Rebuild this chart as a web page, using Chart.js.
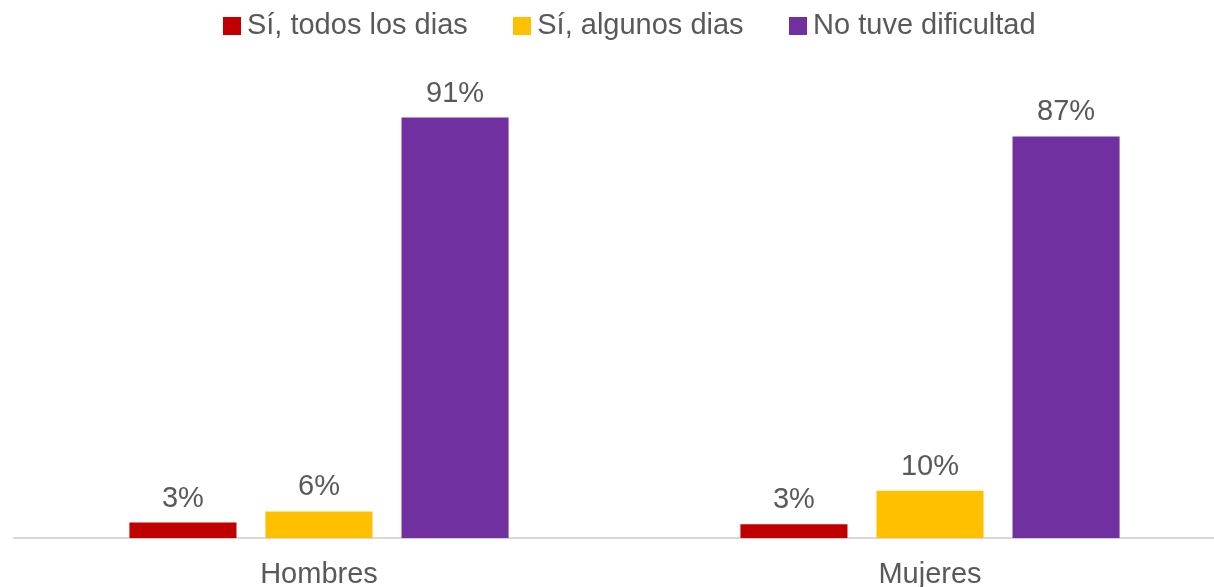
<!DOCTYPE html>
<html>
<head>
<meta charset="utf-8">
<script src="https://cdn.jsdelivr.net/npm/chart.js@4"></script>
<style>
  html, body { margin: 0; padding: 0; background: #fff; overflow: hidden; }
  #wrap { position: relative; width: 1240px; height: 611px; }
</style>
</head>
<body>
<div id="wrap"><canvas id="chart"></canvas></div>
<script>
// data
const categories = ['Hombres', 'Mujeres'];
const seriesNames = ['Sí, todos los dias', 'Sí, algunos dias', 'No tuve dificultad'];
const todosLosDias = [3.4, 3.0];
const algunosDias = [5.8, 10.3];
const noDificultad = [91.2, 87.1];
const seriesColors = ['#C00000', '#FFC000', '#7030A0'];

const FONT = "'Liberation Sans', Arial, sans-serif";
const TEXT = '#595959';

// little square swatches for the legend
function swatch(color) {
    const c = document.createElement('canvas');
    c.width = 18;
    c.height = 18;
    const g = c.getContext('2d');
    g.fillStyle = color;
    g.fillRect(0, 0, 18, 18);
    return c;
}

// percentage labels above each bar
const barLabels = {
    id: 'barLabels',
    afterDatasetsDraw(chart) {
        const ctx = chart.ctx;
        ctx.save();
        ctx.font = '29px ' + FONT;
        ctx.fillStyle = TEXT;
        ctx.textAlign = 'center';
        ctx.textBaseline = 'alphabetic';
        chart.data.datasets.forEach((ds, i) => {
            chart.getDatasetMeta(i).data.forEach((bar, j) => {
                ctx.fillText(Math.round(ds.data[j]) + '%', bar.x, bar.y - 16);
            });
        });
        ctx.restore();
    }
};

// legend: fixed height, drawn a bit higher and to the right
const legendFix = {
    id: 'legendFix',
    beforeInit(chart) {
        const fit = chart.legend.fit;
        chart.legend.fit = function () {
            fit.bind(chart.legend)();
            this.height = 77;
        };
    },
    afterLayout(chart) {
        chart.legend.top -= 43;
        chart.legend.left += 9;
        chart.legend.right += 9;
    }
};

const chart = new Chart(document.getElementById('chart'), {
    type: 'bar',
    data: {
        labels: categories,
        datasets: [
            { label: seriesNames[0], data: todosLosDias, backgroundColor: seriesColors[0] },
            { label: seriesNames[1], data: algunosDias, backgroundColor: seriesColors[1] },
            { label: seriesNames[2], data: noDificultad, backgroundColor: seriesColors[2] }
        ]
    },
    options: {
        responsive: true,
        maintainAspectRatio: false,
        animation: false,
        categoryPercentage: 0.668,
        barPercentage: 0.787,
        layout: { padding: { left: 13.5, right: 4.5, top: 0, bottom: 0 } },
        plugins: {
            legend: {
                position: 'top',
                labels: {
                    font: { family: FONT, size: 29 },
                    color: TEXT,
                    usePointStyle: true,
                    pointStyleWidth: 1,
                    boxHeight: 18,
                    padding: 54,
                    generateLabels(chart) {
                        const items = Chart.defaults.plugins.legend.labels.generateLabels(chart);
                        items.forEach((it, i) => { it.pointStyle = swatch(seriesColors[i]); });
                        return items;
                    }
                }
            },
            tooltip: { enabled: false }
        },
        scales: {
            x: {
                grid: { display: false, drawTicks: false },
                border: { display: true, color: '#D9D9D9', width: 2 },
                ticks: {
                    font: { family: FONT, size: 29 },
                    color: TEXT,
                    padding: 19
                }
            },
            y: {
                display: false,
                min: 0,
                max: 100
            }
        }
    },
    plugins: [barLabels, legendFix]
});
</script>
</body>
</html>
